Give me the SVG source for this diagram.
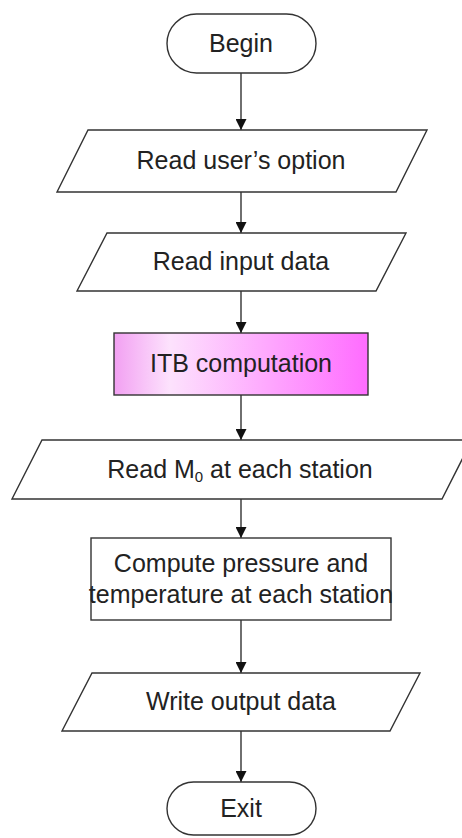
<svg xmlns="http://www.w3.org/2000/svg" width="462" height="838" viewBox="0 0 462 838">
  <style>
    .shape { fill: #ffffff; stroke: #333333; stroke-width: 1.4; }
    .label { font-family: "Liberation Sans", Arial, sans-serif; font-size: 25px; fill: #222222; text-anchor: middle; }
    .edge { fill: none; stroke: #333333; stroke-width: 1.4; }
  </style>
  <defs>
    <marker id="arrow" markerUnits="userSpaceOnUse" markerWidth="11" markerHeight="11" viewBox="0 0 10 10" refX="10" refY="5" orient="auto">
      <path d="M0,0 L10,5 L0,10 Z" fill="#111111"/>
    </marker>
    <linearGradient id="pink" x1="0" y1="0" x2="1" y2="0">
      <stop offset="0" stop-color="#f2a0f2"/>
      <stop offset="0.22" stop-color="#fde2fd"/>
      <stop offset="1" stop-color="#ff6cff"/>
    </linearGradient>
  </defs>

  <g id="connectors">
    <line class="edge" x1="241" y1="73" x2="241" y2="130" marker-end="url(#arrow)"/>
    <line class="edge" x1="241" y1="192" x2="241" y2="233" marker-end="url(#arrow)"/>
    <line class="edge" x1="241" y1="291" x2="241" y2="333" marker-end="url(#arrow)"/>
    <line class="edge" x1="241" y1="395" x2="241" y2="440" marker-end="url(#arrow)"/>
    <line class="edge" x1="241" y1="499" x2="241" y2="538" marker-end="url(#arrow)"/>
    <line class="edge" x1="241" y1="620" x2="241" y2="673" marker-end="url(#arrow)"/>
    <line class="edge" x1="241" y1="731" x2="241" y2="782" marker-end="url(#arrow)"/>
  </g>

  <g id="begin">
    <rect class="shape" x="167" y="14" width="149" height="59" rx="29.5" ry="29.5"/>
    <text class="label" x="241" y="52">Begin</text>
  </g>

  <g id="read-option">
    <polygon class="shape" points="88,130 427,130 396,192 57,192"/>
    <text class="label" x="241" y="169">Read user’s option</text>
  </g>

  <g id="read-input">
    <polygon class="shape" points="107,233 406,233 376,291 77,291"/>
    <text class="label" x="241" y="270">Read input data</text>
  </g>

  <g id="itb">
    <rect x="114" y="333" width="254" height="62" fill="url(#pink)" stroke="#333333" stroke-width="1.4"/>
    <text class="label" x="241" y="372">ITB computation</text>
  </g>

  <g id="read-m0">
    <polygon class="shape" points="42,440 472,440 442,499 12,499"/>
    <text class="label" x="240" y="478">Read M<tspan font-size="15" dy="4">0</tspan><tspan dy="-4"> at each station</tspan></text>
  </g>

  <g id="compute">
    <rect class="shape" x="91" y="538" width="300" height="82"/>
    <text class="label" x="241" y="572">Compute pressure and</text>
    <text class="label" x="241" y="603">temperature at each station</text>
  </g>

  <g id="write-output">
    <polygon class="shape" points="92,673 420,673 390,731 62,731"/>
    <text class="label" x="241" y="710">Write output data</text>
  </g>

  <g id="exit">
    <rect class="shape" x="167" y="782" width="149" height="53" rx="26.5" ry="26.5"/>
    <text class="label" x="241" y="817">Exit</text>
  </g>
</svg>
